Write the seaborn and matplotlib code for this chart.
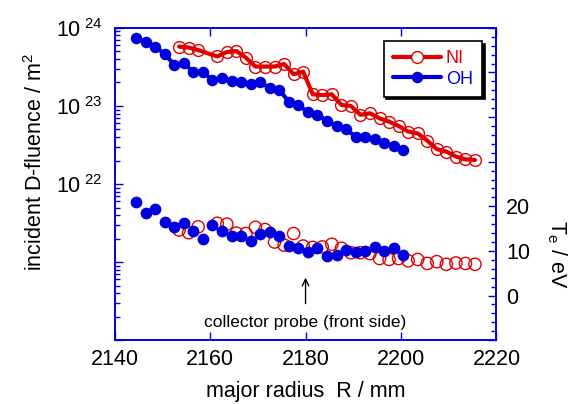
import math

import matplotlib
matplotlib.use("Agg")
import matplotlib.pyplot as plt
import matplotlib.ticker as mticker
from matplotlib.lines import Line2D
import pandas as pd
import seaborn as sns

RED = "#e00000"
BLUE = "#0000dd"

# OH discharge (filled blue)
R_OH = [2144.5, 2146.5, 2148.5, 2150.5, 2152.5, 2154.5, 2156.5, 2158.5, 2160.5,
        2162.5, 2164.5, 2166.5, 2168.5, 2170.5, 2172.5, 2174.5, 2176.5, 2178.5,
        2180.5, 2182.5, 2184.5, 2186.5, 2188.5, 2190.5, 2192.5, 2194.5, 2196.5,
        2198.5, 2200.5]
fluence_OH = [7.4e23, 6.5e23, 5.7e23, 4.65e23, 3.35e23, 3.5e23, 2.75e23, 2.7e23,
              2.15e23, 2.25e23, 2.1e23, 2.05e23, 1.9e23, 2.0e23, 1.7e23, 1.6e23,
              1.14e23, 1.03e23, 8.3e22, 7.7e22, 6.5e22, 5.55e22, 5.0e22, 4.05e22,
              4.05e22, 3.75e22, 3.35e22, 3.05e22, 2.75e22]
Te_OH = [21.0, 18.4, 19.3, 16.5, 15.3, 16.3, 14.5, 12.7, 15.8, 14.5, 13.3, 13.3,
         12.3, 13.8, 14.2, 13.3, 11.2, 10.6, 9.8, 10.6, 8.8, 9.1, 10.2, 9.8, 10.0,
         10.9, 10.0, 10.6, 9.1]

# NI discharge (open red)
R_NI = [2153.5, 2155.5, 2157.5, 2161.5, 2163.5, 2165.5, 2167.5, 2169.5, 2171.5,
        2173.5, 2175.5, 2177.5, 2179.5, 2181.5, 2183.5, 2185.5, 2187.5, 2189.5,
        2191.5, 2193.5, 2195.5, 2197.5, 2199.5, 2201.5, 2203.5, 2205.5, 2207.5,
        2209.5, 2211.5, 2213.5, 2215.5]
fluence_NI = [5.75e23, 5.6e23, 5.2e23, 4.3e23, 4.9e23, 5.05e23, 4.15e23, 3.2e23,
              3.2e23, 3.2e23, 3.45e23, 2.55e23, 2.75e23, 1.41e23, 1.38e23, 1.41e23,
              1.03e23, 1.0e23, 7.7e22, 8.05e22, 6.95e22, 6.3e22, 5.55e22, 4.7e22,
              4.45e22, 3.6e22, 2.8e22, 2.6e22, 2.25e22, 2.07e22, 2.03e22]
Te_NI = [14.7, 14.1, 15.4, 16.2, 16.0, 14.0, 13.9, 15.3, 14.8, 12.0, 11.3, 13.9,
         11.1, 10.8, 10.9, 11.5, 10.6, 9.6, 9.6, 9.4, 8.3, 8.1, 8.3, 7.8, 8.1, 7.2,
         7.6, 7.0, 7.3, 7.2, 7.0]

PROBE_R = 2180
FS = 15.5


def decade_label(v, pos):
    exp = round(math.log10(v))
    if exp in (22, 23, 24):
        return r"$\mathregular{10^{\ %d}}$" % exp
    return ""


def main() -> None:
    sns.set_theme(style="ticks")
    plt.rcParams["font.family"] = ["Liberation Sans", "DejaVu Sans"]
    plt.rcParams["mathtext.fontset"] = "custom"
    plt.rcParams["mathtext.rm"] = "Liberation Sans"
    plt.rcParams["mathtext.it"] = "Liberation Sans:italic"
    plt.rcParams["text.color"] = "black"
    plt.rcParams["axes.labelcolor"] = "black"

    df_oh = pd.DataFrame({"R": R_OH, "fluence": fluence_OH, "Te": Te_OH})
    df_ni = pd.DataFrame({"R": R_NI, "fluence": fluence_NI, "Te": Te_NI})

    fig = plt.figure(figsize=(5.82, 4.04), dpi=100)
    ax = fig.add_axes([0.197, 0.158, 0.656, 0.773])
    ax2 = ax.twinx()

    # fluence, log axis
    sns.lineplot(data=df_ni, x="R", y="fluence", ax=ax, color=RED, lw=3,
                 marker="o", markersize=8.5, markerfacecolor="none",
                 markeredgecolor=RED, markeredgewidth=1.0, estimator=None,
                 sort=False, zorder=3)
    sns.lineplot(data=df_oh, x="R", y="fluence", ax=ax, color=BLUE, lw=3,
                 marker="o", markersize=8.3, markeredgewidth=0, estimator=None,
                 sort=False, zorder=4)
    ax.set_yscale("log")
    ax.set_ylim(1e20, 1e24)
    ax.set_xlim(2140, 2220)

    # Te, linear axis
    sns.scatterplot(data=df_ni, x="R", y="Te", ax=ax2, s=78, marker="o",
                    facecolor="none", edgecolor=RED, linewidth=1.0, zorder=3)
    sns.scatterplot(data=df_oh, x="R", y="Te", ax=ax2, s=72, marker="o",
                    color=BLUE, linewidth=0, zorder=4)
    ax2.set_ylim(-10, 60)

    # ticks
    ax.xaxis.set_major_locator(mticker.MultipleLocator(20))
    ax.xaxis.set_minor_locator(mticker.NullLocator())
    ax.yaxis.set_major_locator(mticker.LogLocator(base=10, numticks=10))
    ax.yaxis.set_minor_locator(mticker.LogLocator(base=10, subs=range(2, 10), numticks=20))
    ax.yaxis.set_major_formatter(mticker.FuncFormatter(decade_label))
    ax.yaxis.set_minor_formatter(mticker.NullFormatter())

    ax2.yaxis.set_major_locator(mticker.MultipleLocator(10))
    ax2.yaxis.set_minor_locator(mticker.MultipleLocator(2))
    ax2.yaxis.set_major_formatter(mticker.FuncFormatter(
        lambda v, p: "%d" % v if 0 <= v <= 20 else ""))

    for a in (ax, ax2):
        for sp in a.spines.values():
            sp.set_color(BLUE)
            sp.set_linewidth(1.2)
        a.tick_params(which="both", direction="in", color=BLUE, width=1.0,
                      labelsize=FS, labelcolor="black")
        a.tick_params(which="major", length=6)
        a.tick_params(which="minor", length=3.5)
    ax.tick_params(axis="x", top=True, pad=6)
    ax.tick_params(axis="y", pad=9)
    ax2.tick_params(axis="y", pad=7)

    ax.set_xlabel("major radius  R / mm", fontsize=FS, labelpad=8)
    ax.set_ylabel(r"incident D-fluence / m$\mathregular{^2}$", fontsize=FS)
    ax.yaxis.set_label_coords(-0.178, 0.57)
    ax2.set_ylabel(r"T$\mathregular{_e}$ / eV", fontsize=FS, rotation=-90)
    ax2.yaxis.set_label_coords(1.19, 0.275)

    # probe position
    ax2.annotate("", xy=(PROBE_R, 4.0), xytext=(PROBE_R, -1.8),
                 arrowprops=dict(arrowstyle="->", color="black", lw=1.0,
                                 shrinkA=0, shrinkB=0))
    ax2.text(PROBE_R, -6.0, "collector probe (front side)", fontsize=12.5,
             ha="center", va="center", color="black")

    handles = [
        Line2D([], [], color=RED, lw=3, marker="o", markersize=8.5,
               markerfacecolor="white", markeredgecolor=RED, markeredgewidth=1.0),
        Line2D([], [], color=BLUE, lw=3, marker="o", markersize=8.3,
               markeredgewidth=0),
    ]
    leg = ax2.legend(handles, ["NI", "OH"], loc="upper right",
                     bbox_to_anchor=(0.962, 0.958), borderaxespad=0,
                     fontsize=13, handlelength=2.7, handletextpad=0.25,
                     borderpad=0.5, labelspacing=0.2, fancybox=False,
                     frameon=True, edgecolor="black", framealpha=1,
                     shadow={"ox": 2, "oy": -2, "facecolor": "black",
                             "edgecolor": "black", "alpha": 1})
    leg.get_frame().set_linewidth(1.2)
    for txt, col in zip(leg.get_texts(), (RED, BLUE)):
        txt.set_color(col)

    fig.savefig("out.png", dpi=100)


if __name__ == "__main__":
    main()
